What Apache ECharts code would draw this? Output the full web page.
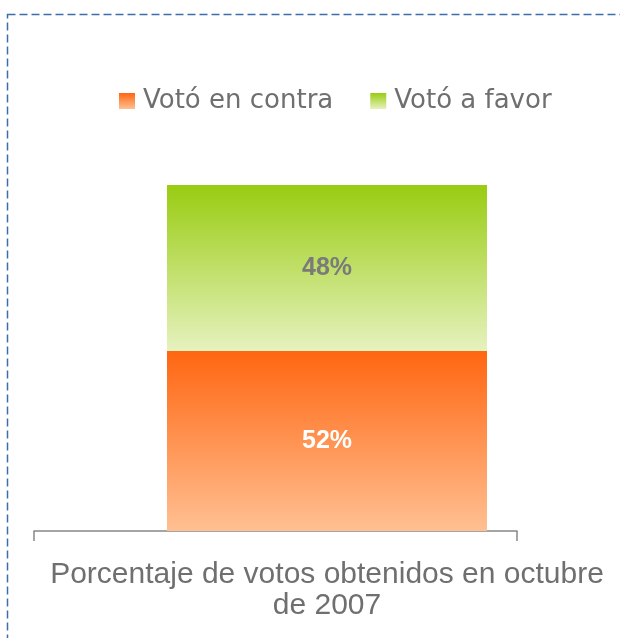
<!DOCTYPE html>
<html>
<head>
<meta charset="utf-8">
<script src="https://cdn.jsdelivr.net/npm/echarts@6/dist/echarts.min.js"></script>
<style>
  html, body { margin: 0; padding: 0; background: #fff; }
  #chart { width: 620px; height: 638px; }
</style>
</head>
<body>
<div id="chart"></div>
<script>
  // datos
  var categorias = ['Porcentaje de votos obtenidos en octubre\nde 2007'];
  var series = ['Votó en contra', 'Votó a favor'];
  var enContra = [52];
  var aFavor = [48];

  var myChart = echarts.init(document.getElementById('chart'));

  function grad(top, bottom) {
    return new echarts.graphic.LinearGradient(0, 0, 0, 1, [
      { offset: 0, color: top },
      { offset: 1, color: bottom }
    ]);
  }

  myChart.setOption({
    animation: false,
    graphic: [{
      type: 'rect',
      shape: { x: 7.5, y: 14.5, width: 700, height: 700 },
      style: { fill: 'none', stroke: '#3c6ea8', lineWidth: 1.5, lineDash: [8, 4] }
    }],
    legend: {
      top: 83,
      left: 114,
      itemWidth: 16,
      itemHeight: 16,
      itemGap: 37,
      icon: 'rect',
      textStyle: { fontFamily: 'DejaVu Sans', fontSize: 26, color: '#6f6f6f', padding: [0, 0, 0, 3] },
      data: series
    },
    grid: [
      { left: 34, right: 0, top: 185, bottom: 107 },
      { left: 34, right: 103, top: 185, bottom: 107 }
    ],
    xAxis: [{
      type: 'category',
      gridIndex: 0,
      data: categorias,
      axisLine: { show: false },
      axisTick: { show: false },
      axisLabel: {
        margin: 28,
        fontFamily: 'Liberation Sans',
        fontSize: 30,
        lineHeight: 31,
        color: '#6f6f6f'
      }
    }, {
      // solo la linea del eje con sus marcas
      type: 'value',
      gridIndex: 1,
      min: 0,
      max: 1,
      interval: 1,
      splitLine: { show: false },
      axisLine: { show: true, lineStyle: { color: '#888', width: 1.5 } },
      axisTick: { show: true, length: 10, lineStyle: { color: '#888', width: 1.5 } },
      axisLabel: { show: false }
    }],
    yAxis: [{
      type: 'value',
      gridIndex: 0,
      min: 0,
      max: 100,
      show: false
    }, {
      type: 'value',
      gridIndex: 1,
      show: false
    }],
    series: [{
      name: series[0],
      type: 'bar',
      stack: 'votos',
      barWidth: 320,
      data: enContra,
      itemStyle: { color: grad('#ff6611', '#ffc092') },
      label: {
        show: true,
        position: 'inside',
        formatter: '{c}%',
        fontFamily: 'Liberation Sans',
        fontSize: 25,
        fontWeight: 'bold',
        color: '#ffffff'
      }
    }, {
      name: series[1],
      type: 'bar',
      stack: 'votos',
      barWidth: 320,
      data: aFavor,
      itemStyle: { color: grad('#99cc11', '#e6f2bf') },
      label: {
        show: true,
        position: 'inside',
        formatter: '{c}%',
        fontFamily: 'Liberation Sans',
        fontSize: 25,
        fontWeight: 'bold',
        color: '#7a7a7a'
      }
    }]
  });

  window.addEventListener('resize', function () {
    myChart.resize();
  });
</script>
</body>
</html>
